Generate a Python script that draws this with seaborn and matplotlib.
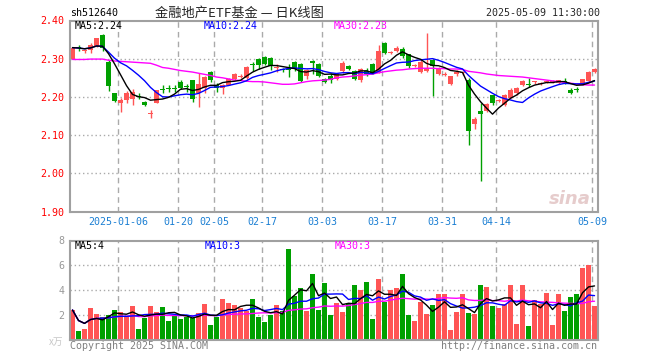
import numpy as np
import pandas as pd
import seaborn as sns
import matplotlib.pyplot as plt

# daily K-line data for sh512640 (88 trading days)
open_ = [2.300, 2.328, 2.320, 2.322, 2.333, 2.361, 2.291, 2.209, 2.185, 2.193,
         2.195, 2.201, 2.187, 2.156, 2.185, 2.220, 2.222, 2.222, 2.240, 2.226,
         2.243, 2.211, 2.224, 2.266, 2.231, 2.224, 2.232, 2.248, 2.252, 2.250,
         2.284, 2.300, 2.305, 2.302, 2.275, 2.271, 2.272, 2.292, 2.287, 2.256,
         2.294, 2.287, 2.247, 2.256, 2.247, 2.267, 2.280, 2.267, 2.244, 2.267,
         2.287, 2.263, 2.342, 2.316, 2.320, 2.326, 2.311, 2.282, 2.266, 2.267,
         2.296, 2.259, 2.258, 2.234, 2.260, 2.262, 2.243, 2.130, 2.164, 2.164,
         2.204, 2.188, 2.180, 2.198, 2.209, 2.230, 2.231, 2.238, 2.234, 2.239,
         2.239, 2.237, 2.240, 2.217, 2.220, 2.232, 2.241, 2.266]
high = [2.331, 2.335, 2.325, 2.342, 2.355, 2.364, 2.296, 2.211, 2.197, 2.215,
        2.220, 2.210, 2.190, 2.165, 2.219, 2.230, 2.230, 2.230, 2.243, 2.234,
        2.245, 2.263, 2.256, 2.268, 2.236, 2.233, 2.250, 2.262, 2.260, 2.281,
        2.292, 2.302, 2.307, 2.304, 2.287, 2.275, 2.285, 2.294, 2.290, 2.272,
        2.296, 2.289, 2.249, 2.263, 2.262, 2.293, 2.283, 2.270, 2.275, 2.275,
        2.289, 2.337, 2.344, 2.320, 2.333, 2.330, 2.313, 2.287, 2.296, 2.368,
        2.298, 2.278, 2.265, 2.256, 2.270, 2.267, 2.250, 2.148, 2.185, 2.185,
        2.206, 2.194, 2.208, 2.222, 2.226, 2.243, 2.250, 2.242, 2.238, 2.243,
        2.243, 2.245, 2.250, 2.222, 2.225, 2.248, 2.269, 2.275]
low = [2.298, 2.320, 2.315, 2.316, 2.331, 2.320, 2.215, 2.187, 2.160, 2.185,
       2.180, 2.195, 2.175, 2.146, 2.183, 2.211, 2.213, 2.214, 2.220, 2.214,
       2.186, 2.173, 2.210, 2.240, 2.213, 2.208, 2.230, 2.243, 2.249, 2.248,
       2.267, 2.272, 2.284, 2.270, 2.266, 2.265, 2.252, 2.268, 2.238, 2.247,
       2.261, 2.252, 2.236, 2.236, 2.244, 2.262, 2.270, 2.243, 2.240, 2.255,
       2.260, 2.262, 2.311, 2.313, 2.317, 2.303, 2.276, 2.279, 2.263, 2.264,
       2.202, 2.257, 2.254, 2.232, 2.255, 2.258, 2.075, 2.115, 1.979, 2.160,
       2.178, 2.186, 2.176, 2.196, 2.205, 2.228, 2.226, 2.235, 2.232, 2.236,
       2.236, 2.235, 2.235, 2.208, 2.213, 2.230, 2.239, 2.262]
close = [2.329, 2.327, 2.322, 2.335, 2.353, 2.327, 2.228, 2.190, 2.193, 2.209,
         2.212, 2.199, 2.178, 2.159, 2.217, 2.219, 2.221, 2.221, 2.222, 2.225,
         2.195, 2.235, 2.253, 2.244, 2.224, 2.231, 2.247, 2.259, 2.256, 2.279,
         2.283, 2.283, 2.287, 2.280, 2.277, 2.270, 2.270, 2.274, 2.241, 2.270,
         2.289, 2.256, 2.239, 2.245, 2.259, 2.289, 2.274, 2.246, 2.272, 2.261,
         2.263, 2.320, 2.316, 2.318, 2.329, 2.307, 2.280, 2.284, 2.292, 2.276,
         2.280, 2.276, 2.260, 2.254, 2.266, 2.264, 2.110, 2.143, 2.154, 2.182,
         2.185, 2.190, 2.206, 2.219, 2.224, 2.241, 2.230, 2.240, 2.236, 2.241,
         2.241, 2.243, 2.239, 2.211, 2.218, 2.246, 2.266, 2.273]
# 30-day average as drawn (it needs history from before the window)
ma30 = [2.298, 2.298, 2.298, 2.299, 2.299, 2.299, 2.296, 2.294, 2.293, 2.292,
        2.291, 2.290, 2.289, 2.288, 2.283, 2.277, 2.275, 2.272, 2.269, 2.267,
        2.265, 2.262, 2.259, 2.256, 2.252, 2.250, 2.247, 2.244, 2.243, 2.241,
        2.240, 2.240, 2.239, 2.237, 2.235, 2.233, 2.233, 2.234, 2.237, 2.240,
        2.242, 2.243, 2.244, 2.246, 2.250, 2.252, 2.253, 2.255, 2.257, 2.258,
        2.260, 2.263, 2.266, 2.268, 2.270, 2.271, 2.273, 2.274, 2.275, 2.275,
        2.275, 2.274, 2.274, 2.273, 2.273, 2.272, 2.267, 2.265, 2.263, 2.260,
        2.258, 2.256, 2.255, 2.254, 2.253, 2.252, 2.250, 2.248, 2.246, 2.244,
        2.242, 2.240, 2.238, 2.236, 2.234, 2.232, 2.231, 2.231]
# volume, x10k
volume = [2.41, 0.72, 0.88, 2.57, 2.09, 1.82, 2.00, 2.41, 2.25, 1.88,
          2.73, 0.88, 1.80, 2.73, 2.25, 2.65, 1.53, 1.95, 1.69, 1.88,
          1.80, 2.15, 2.90, 1.21, 1.88, 3.30, 2.95, 2.80, 2.57, 2.36,
          3.30, 1.85, 1.45, 2.00, 2.80, 2.35, 7.33, 3.54, 4.20, 2.35,
          5.30, 2.41, 4.62, 2.00, 2.95, 2.25, 2.95, 4.43, 4.03, 4.67,
          1.69, 4.91, 3.09, 4.03, 4.19, 5.32, 2.01, 1.53, 3.06, 2.09,
          2.82, 3.70, 3.70, 0.81, 2.25, 3.70, 2.17, 2.09, 4.43, 4.27,
          2.74, 2.58, 2.90, 4.43, 1.29, 4.43, 1.13, 3.22, 2.90, 3.79,
          1.21, 3.70, 2.34, 3.46, 3.70, 5.80, 6.04, 2.74]

tick_labels = ['2025-01-06', '01-20', '02-05', '02-17', '03-03',
               '03-17', '03-31', '04-14', '05-09']
tick_bars = [8, 18, 24, 32, 42, 52, 62, 71, 87]

RED = '#FF5555'
GREEN = '#00A000'
GRID = '#AAAAAA'
MONO = 'DejaVu Sans Mono'

df = pd.DataFrame({'o': open_, 'h': high, 'l': low, 'c': close,
                   'v': volume, 'ma30': ma30})
df['i'] = np.arange(len(df))
df['ma5'] = df['c'].rolling(5, min_periods=1).mean()
df['ma10'] = df['c'].rolling(10, min_periods=1).mean()
df['vma5'] = df['v'].rolling(5, min_periods=1).mean()
df['vma10'] = df['v'].rolling(10, min_periods=1).mean()
df['vma30'] = df['v'].rolling(30, min_periods=1).mean()
up = df['c'] >= df['o']
colors = np.where(up, RED, GREEN)

sns.set_style('white')
plt.rcParams['font.family'] = [MONO, 'Noto Sans CJK SC']

W, H = 660, 360
fig = plt.figure(figsize=(W / 100, H / 100), dpi=100)


def box(x0, y0, x1, y1):
    return [x0 / W, 1 - y1 / H, (x1 - x0) / W, (y1 - y0) / H]


def ftext(x, y, s, **kw):
    fig.text(x / W, 1 - y / H, s, va='center', **kw)


ax1 = fig.add_axes(box(70, 20.5, 598, 211.5))
ax2 = fig.add_axes(box(70, 240.5, 598, 340))
xlim = (-0.42, len(df) - 0.42)

# candles
ax1.vlines(df['i'], df['l'], df['h'], colors=colors, lw=1, zorder=3)
body = np.maximum((df['c'] - df['o']).abs(), 0.0028)
ax1.bar(df['i'], body, bottom=np.minimum(df['o'], df['c']), width=0.8,
        color=colors, lw=0, zorder=3)
sns.lineplot(x=df['i'], y=df['ma30'], ax=ax1, color='#FF00FF', lw=1, zorder=4)
sns.lineplot(x=df['i'], y=df['ma10'], ax=ax1, color='#0000FF', lw=1, zorder=4)
sns.lineplot(x=df['i'], y=df['ma5'], ax=ax1, color='black', lw=1, zorder=4)

# volume
ax2.bar(df['i'], df['v'], width=0.8, color=colors, lw=0, zorder=3)
sns.lineplot(x=df['i'], y=df['vma30'], ax=ax2, color='#FF00FF', lw=1, zorder=4)
sns.lineplot(x=df['i'], y=df['vma10'], ax=ax2, color='#0000FF', lw=1, zorder=4)
sns.lineplot(x=df['i'], y=df['vma5'], ax=ax2, color='black', lw=1, zorder=4)

ax1.set_ylim(1.90, 2.40)
ax2.set_ylim(0, 8)
for ax in (ax1, ax2):
    ax.set_xlim(*xlim)
    ax.set_xlabel('')
    ax.set_ylabel('')
    for sp in ax.spines.values():
        sp.set_color('#A0A0A0')
        sp.set_linewidth(1.5)
        sp.set_zorder(6)
    for t in tick_bars:
        ax.axvline(t - 0.4, color=GRID, lw=1, ls=(0, (4, 3)), zorder=1)
for yv in [2.0, 2.1, 2.2, 2.3]:
    ax1.axhline(yv, color=GRID, lw=1, ls=(0, (1, 2)), zorder=1)
for yv in [2, 4, 6]:
    ax2.axhline(yv, color=GRID, lw=1, ls=(0, (1, 2)), zorder=1)

ax1.set_yticks([1.9, 2.0, 2.1, 2.2, 2.3, 2.4])
ax1.set_yticklabels(['%.2f' % v for v in [1.9, 2.0, 2.1, 2.2, 2.3, 2.4]],
                    color='red', fontsize=7.2)
ax1.set_xticks([t - 0.4 for t in tick_bars])
ax1.set_xticklabels(tick_labels, color='#1B7FD3', fontsize=7.2)
ax1.tick_params(length=0, pad=4)
ax2.set_yticks([2, 4, 6, 8])
ax2.set_yticklabels(['2', '4', '6', '8'], color='#999999', fontsize=7.2)
ax2.set_xticks([])
ax2.tick_params(length=0, pad=4)

# header
ftext(70, 13, 'sh512640', fontsize=7.2, color='black')
ftext(239, 13, '金融地产ETF基金 — 日K线图', fontsize=9.5, ha='center',
      family=['Noto Sans CJK SC', 'DejaVu Sans'])
ftext(600, 13, '2025-05-09 11:30:00', fontsize=7.2, ha='right')

# moving average labels
last = df.iloc[-1]
ftext(75, 26, 'MA5:%.2f' % last['ma5'], fontsize=7.2, color='black')
ftext(204, 26, 'MA10:%.2f' % last['ma10'], fontsize=7.2, color='#0000FF')
ftext(334, 26, 'MA30:%.2f' % last['ma30'], fontsize=7.2, color='#FF00FF')
ftext(75, 246, 'MA5:%d' % int(last['vma5']), fontsize=7.2, color='black')
ftext(205, 246, 'MA10:%d' % int(last['vma10']), fontsize=7.2, color='#0000FF')
ftext(335, 246, 'MA30:%d' % int(last['vma30']), fontsize=7.2, color='#FF00FF')

# footer and watermark
ftext(63, 342, 'x万', fontsize=7, color='#C8C8C8', ha='right',
      family=['Noto Sans CJK SC', 'DejaVu Sans'])
ftext(70, 346, 'Copyright 2025 SINA.COM', fontsize=7.2, color='#808080')
ftext(597, 346, 'http://finance.sina.com.cn', fontsize=7.2, color='#808080',
      ha='right')
ftext(570, 199, 'sina', fontsize=13, color='#E6CCCC', ha='center',
      style='italic', weight='bold', family='DejaVu Sans')

fig.savefig('out.png', dpi=100)
